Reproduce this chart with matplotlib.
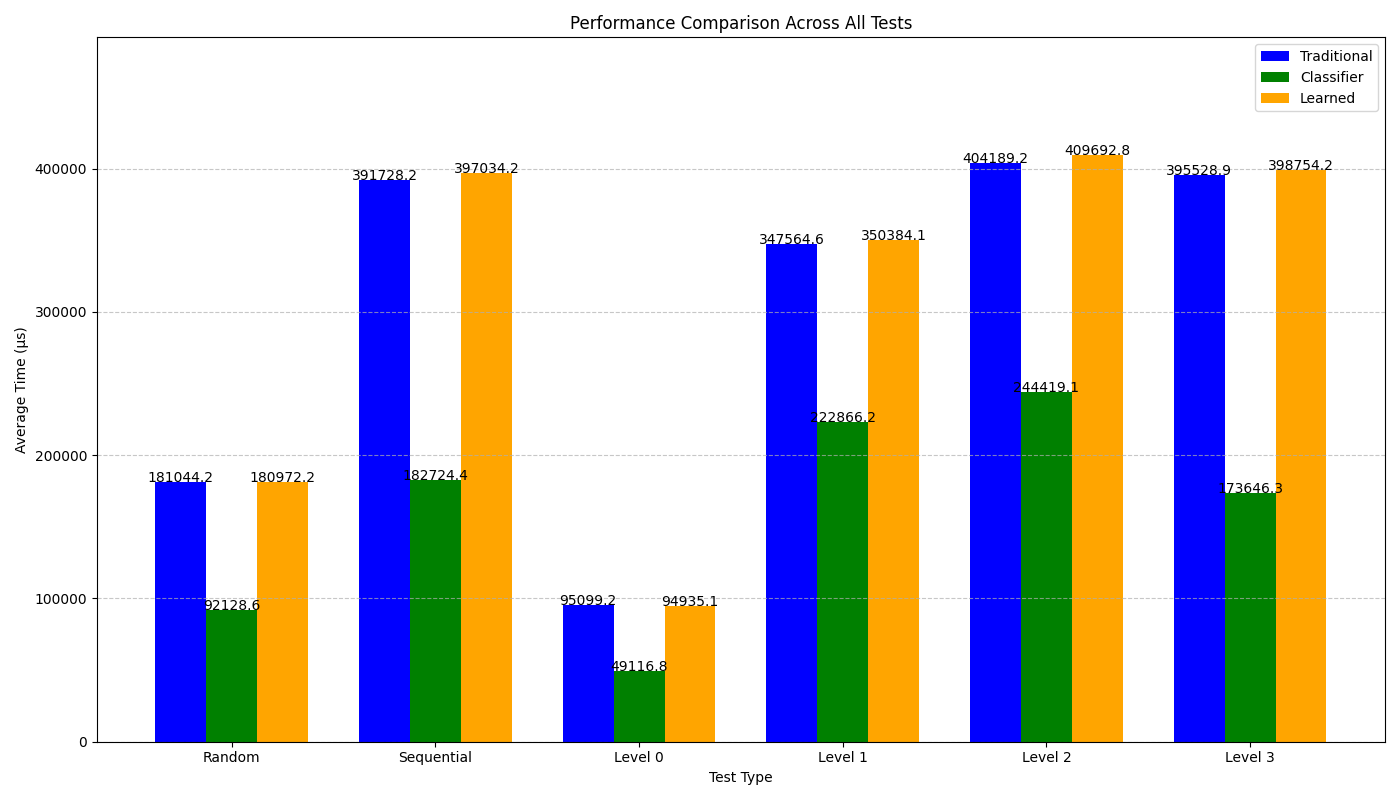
import numpy as np
import matplotlib
matplotlib.use('Agg')
import matplotlib.pyplot as plt

tests = ['Random', 'Sequential', 'Level 0', 'Level 1', 'Level 2', 'Level 3']
traditional = [181044.2, 391728.2, 95099.2, 347564.6, 404189.2, 395528.9]
classifier = [92128.6, 182724.4, 49116.8, 222866.2, 244419.1, 173646.3]
learned = [180972.2, 397034.2, 94935.1, 350384.1, 409692.8, 398754.2]


def main():
    x = np.arange(len(tests))
    width = 0.25

    fig, ax = plt.subplots(figsize=(14, 8), dpi=100)
    series = [('Traditional', traditional, 'blue'),
              ('Classifier', classifier, 'green'),
              ('Learned', learned, 'orange')]
    for i, (name, vals, color) in enumerate(series):
        bars = ax.bar(x + (i - 1) * width, vals, width, label=name, color=color)
        for b, v in zip(bars, vals):
            ax.text(b.get_x() + b.get_width() / 2, b.get_height(), '{:.1f}'.format(v),
                    ha='center', va='baseline', fontsize=10)

    ax.set_title('Performance Comparison Across All Tests')
    ax.set_xlabel('Test Type')
    ax.set_ylabel('Average Time (µs)')
    ax.set_xticks(x)
    ax.set_xticklabels(tests)
    ax.set_ylim(0, max(learned) * 1.2)
    ax.grid(axis='y', linestyle='--', alpha=0.7)
    ax.legend(loc='upper right')
    plt.tight_layout()
    plt.savefig('out.png')


if __name__ == "__main__":
    main()
